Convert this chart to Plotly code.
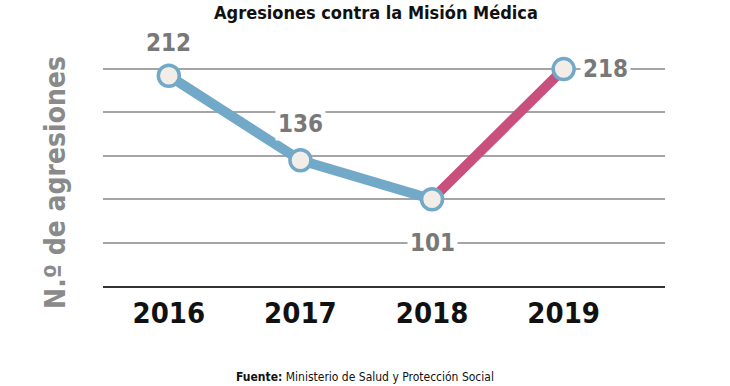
import plotly.graph_objects as go

years = ["2016", "2017", "2018", "2019"]
agresiones = [212, 136, 101, 218]
title_text = "Agresiones contra la Misión Médica"
y_title = "N.º de agresiones"
source_text = "<b>Fuente:</b> Ministerio de Salud y Protección Social"

FONT = "DejaVu Sans Condensed, Liberation Sans, sans-serif"
BLUE = "#72a9c8"
PINK = "#c9507d"

fig = go.Figure()
fig.add_trace(go.Scatter(x=years[:3], y=agresiones[:3], mode="lines",
                         line=dict(color=BLUE, width=10), hoverinfo="skip"))
fig.add_trace(go.Scatter(x=years[2:], y=agresiones[2:], mode="lines",
                         line=dict(color=PINK, width=10), hoverinfo="skip"))
fig.add_trace(go.Scatter(x=years, y=agresiones, mode="markers",
                         marker=dict(size=21, color="#f3ede8",
                                     line=dict(color=BLUE, width=3.5))))

# data labels (category axis -> use serial index)
offsets = [(0, 33), (0, 36), (0, -44), (42, 0)]
for i, (v, (dx, dy)) in enumerate(zip(agresiones, offsets)):
    fig.add_annotation(x=i, y=v, xref="x", yref="y", text=f"<b>{v}</b>",
                       showarrow=False, xshift=dx, yshift=dy,
                       font=dict(family=FONT, size=24, color="#787878"),
                       bgcolor="white", borderpad=2)

fig.add_annotation(x=-0.0836, y=0.419, xref="paper", yref="paper", text=f"<b>{y_title}</b>",
                   textangle=-90, showarrow=False, xanchor="center", yanchor="middle",
                   font=dict(family=FONT, size=28, color="#8a8a8a"))
fig.add_annotation(x=0.466, y=-0.37, xref="paper", yref="paper", text=source_text,
                   showarrow=False, xanchor="center", yanchor="middle",
                   font=dict(family=FONT, size=12, color="#111"))

fig.update_layout(
    width=730, height=386,
    margin=dict(l=103, r=65, t=40, b=100),
    paper_bgcolor="white", plot_bgcolor="white",
    showlegend=False,
    title=dict(text=f"<b>{title_text}</b>", x=0.515, xanchor="center",
               y=0.966, yanchor="middle",
               font=dict(family=FONT, size=18, color="#111")),
    xaxis=dict(type="category", range=[-0.5, 3.77], showgrid=False,
               showline=True, linecolor="#333", linewidth=1.5,
               ticks="", ticklabelstandoff=0,
               tickfont=dict(family=FONT, size=29, color="#111", weight="bold")),
    yaxis=dict(range=[23, 244.1], tick0=23, dtick=39, showticklabels=False,
               showgrid=True, gridcolor="#a5a5a5", gridwidth=1.5,
               zeroline=False, showline=False, ticks=""),
)
fig.write_html("out.html", config={"displayModeBar": False},
               post_script="document.body.style.margin='0';")
